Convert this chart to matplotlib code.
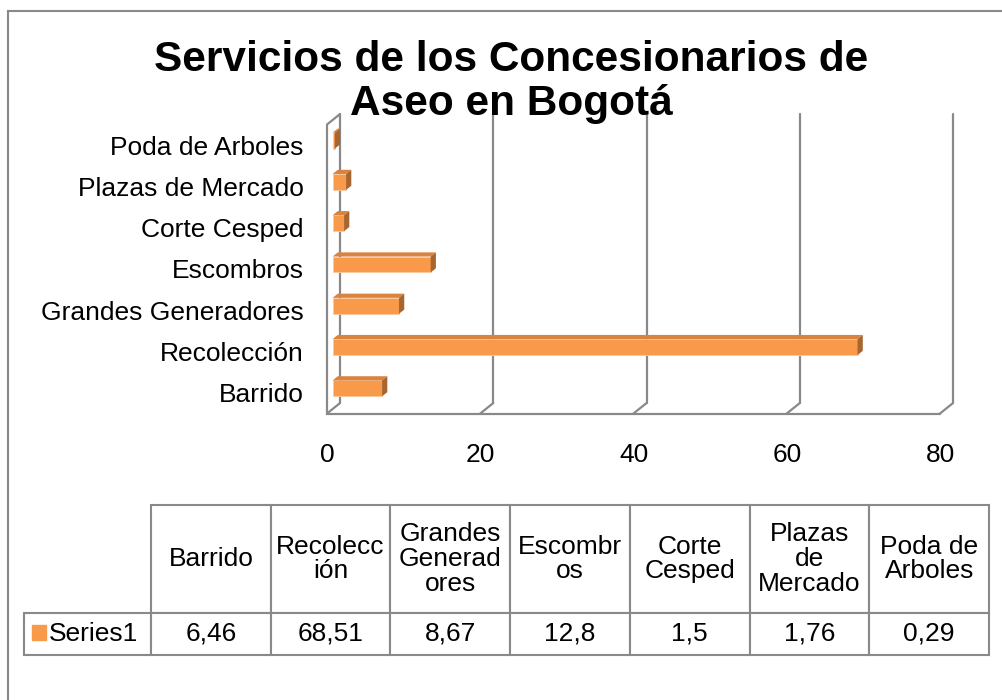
import matplotlib
matplotlib.use("Agg")
import numpy as np
import matplotlib.pyplot as plt
from matplotlib.patches import Polygon, Rectangle
from matplotlib.table import Table
from matplotlib.lines import Line2D

plt.rcParams['font.family'] = ['Liberation Sans', 'DejaVu Sans']

# datos
categorias = ["Barrido", "Recolección", "Grandes Generadores", "Escombros",
              "Corte Cesped", "Plazas de Mercado", "Poda de Arboles"]
valores = [6.46, 68.51, 8.67, 12.8, 1.5, 1.76, 0.29]
valores_txt = ["6,46", "68,51", "8,67", "12,8", "1,5", "1,76", "0,29"]
encabezados = ["Barrido", "Recolecc\nión", "Grandes\nGenerad\nores", "Escombr\nos",
               "Corte\nCesped", "Plazas\nde\nMercado", "Poda de\nArboles"]
serie = "Series1"
x_ticks = [0, 20, 40, 60, 80]
titulo = "Servicios de los Concesionarios de\nAseo en Bogotá"

W, H = 1002, 700
fig = plt.figure(figsize=(W / 100, H / 100), dpi=100)

GRIS = '#898989'
NARANJA = '#F9994A'
TAPA = '#D9833F'
LADO = '#A8652E'
FS = 19


def fx(px):
    return px / W


def fy(py):
    return 1 - py / H


# marco exterior
fig.add_artist(Line2D([fx(8), fx(8)], [fy(11), 0], color=GRIS, lw=1.5))
fig.add_artist(Line2D([fx(8), 1], [fy(11), fy(11)], color=GRIS, lw=1.5))

# ejes (plano frontal)
ax = fig.add_axes([fx(327), fy(413.5), fx(940) - fx(327), fy(124.5) - fy(413.5)])
n = len(categorias)
y0, y1 = -0.5, n - 0.5
ax.set_xlim(0, 80)
ax.set_ylim(y0, y1)

DX, DY = 1.70, 0.253   # profundidad del efecto 3D
kw = dict(color=GRIS, lw=1.6, clip_on=False, solid_capstyle='round', zorder=1)
for t in x_ticks:
    ax.plot([t, t + DX], [y0, y0 + DY], **kw)
    ax.plot([t + DX, t + DX], [y0 + DY, y1 + DY], **kw)
ax.plot([0, 80], [y0, y0], **kw)
ax.plot([0, 0], [y0, y1], **kw)
ax.plot([0, DX], [y1, y1 + DY], **kw)

# barras
f0, f1 = 0.43, 0.83
alto = 0.386
pos = np.arange(n)
ax.barh(pos + f0 * DY, valores, height=alto, left=f0 * DX, color=NARANJA,
        edgecolor='#FBC9A0', lw=0.6, zorder=3)
for i, v in enumerate(valores):
    yt = i + f0 * DY + alto / 2
    xa, xb = f0 * DX, v + f0 * DX
    ddx, ddy = (f1 - f0) * DX, (f1 - f0) * DY
    ax.add_patch(Polygon([(xa, yt), (xb, yt), (xb + ddx, yt + ddy), (xa + ddx, yt + ddy)],
                         closed=True, fc=TAPA, ec='none', zorder=3))
    ax.add_patch(Polygon([(xb, yt - alto), (xb, yt), (xb + ddx, yt + ddy),
                          (xb + ddx, yt - alto + ddy)],
                         closed=True, fc=LADO, ec='none', zorder=3))

ax.set_yticks(pos, categorias)
ax.set_xticks(x_ticks, [str(t) for t in x_ticks])
ax.tick_params(axis='y', length=0, labelsize=FS, pad=17)
ax.tick_params(axis='x', length=0, labelsize=FS, pad=21)
for s in ax.spines.values():
    s.set_visible(False)
ax.patch.set_visible(False)

fig.text(fx(511), fy(82), titulo, ha='center', va='center', fontsize=30.5,
         fontweight='bold', linespacing=1.1)

# tabla de datos
tax = fig.add_axes([fx(24), fy(655), fx(989) - fx(24), fy(505) - fy(655)])
tax.set_axis_off()
tabla = Table(tax, bbox=[0, 0, 1, 1])
w0, wc = 127, 119.7
h0, h1 = 108, 42
c = tabla.add_cell(0, 0, w0, h0, text='')
c.visible_edges = 'open'
for j, enc in enumerate(encabezados):
    c = tabla.add_cell(0, j + 1, wc, h0, text=enc, loc='center')
    c.get_text().set_linespacing(1.05)
tabla.add_cell(1, 0, w0, h1, text=serie, loc='right')
for j, vt in enumerate(valores_txt):
    tabla.add_cell(1, j + 1, wc, h1, text=vt, loc='center')
tabla.auto_set_font_size(False)
tabla.set_fontsize(FS)
for cell in tabla.get_celld().values():
    cell.set_edgecolor(GRIS)
    cell.set_linewidth(1.5)
tax.add_table(tabla)
tax.add_patch(Rectangle((0.0083, 0.1), 0.0145, 0.1, color=NARANJA,
                        transform=tax.transAxes, clip_on=False))

fig.savefig('out.png', dpi=100)
